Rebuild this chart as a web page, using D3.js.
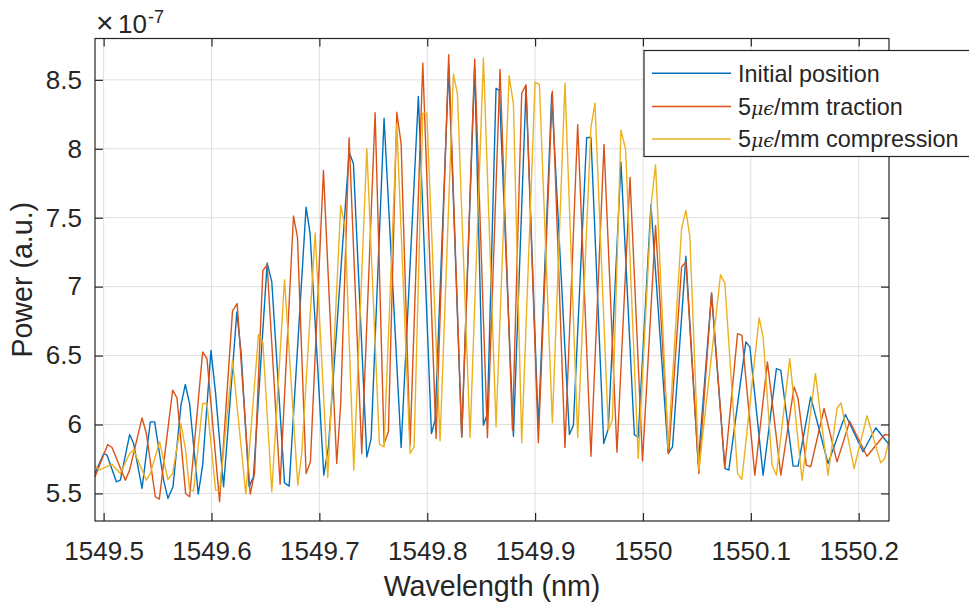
<!DOCTYPE html>
<html>
<head>
<meta charset="utf-8">
<script src="https://cdn.jsdelivr.net/npm/d3@7"></script>
<style>
  body { margin: 0; background: #fff; }
  text { font-family: "Liberation Sans", Arial, Helvetica, sans-serif; fill: #262626; }
</style>
</head>
<body>
<svg id="chart" width="969" height="608"></svg>
<script>
// Series labels (the μϵ part is set in italic math style)
const seriesNames = ["Initial position", "5μϵ/mm traction", "5μϵ/mm compression"];
const seriesColors = ["#0072BD", "#D95319", "#EDB120"];

// Wavelength (nm) and optical power (×10^-7 a.u.) for each recording
const wlInitial = [
  1549.4920, 1549.5001, 1549.5031, 1549.5118, 1549.5155, 1549.5241, 1549.5278, 1549.5356, 1549.5433, 1549.5473, 1549.5556, 1549.5596, 1549.5643, 1549.5717, 1549.5757, 1549.5797, 1549.5877, 1549.5918, 1549.5995, 1549.6038, 1549.6112,
  1549.6235, 1549.6275, 1549.6349, 1549.6389, 1549.6516, 1549.6559, 1549.6677, 1549.6720, 1549.6877, 1549.6914, 1549.7041, 1549.7084, 1549.7276, 1549.7316,
  1549.7440, 1549.7480, 1549.7600, 1549.7758, 1549.7918, 1549.8039, 1549.8073, 1549.8199, 1549.8320, 1549.8440, 1549.8521, 1549.8558, 1549.8638,
  1549.8669, 1549.8799, 1549.8916, 1549.9030, 1549.9154, 1549.9318, 1549.9355, 1549.9478, 1549.9518, 1549.9636, 1549.9679, 1549.9796, 1549.9920,
  1549.9956, 1550.0074, 1550.0234, 1550.0274, 1550.0398, 1550.0512, 1550.0636, 1550.0759, 1550.0796, 1550.0954, 1550.0991, 1550.1114,
  1550.1237, 1550.1278, 1550.1392, 1550.1438, 1550.1555, 1550.1716, 1550.1877, 1550.2040, 1550.2158, 1550.2281];
const pInitial = [
  5.645, 5.790, 5.778, 5.584, 5.596, 5.927, 5.862, 5.536, 6.019, 6.019, 5.596, 5.464, 5.548, 6.140, 6.290, 6.152, 5.495, 5.705, 6.538, 6.224, 5.548,
  6.816, 6.514, 5.548, 5.620, 7.171, 7.034, 5.577, 5.553, 7.577, 7.384, 5.633, 5.838, 7.976, 7.891,
  5.765, 5.898, 8.222, 5.833, 8.379, 5.935, 6.031, 8.592, 5.910, 8.592, 5.995, 6.080, 8.439,
  8.422, 5.915, 8.447, 5.971, 8.398, 5.927, 5.995, 8.080, 8.084, 5.862, 5.971, 7.903, 5.927,
  5.906, 7.594, 5.790, 5.838, 7.220, 5.717, 6.949, 5.681, 5.669, 6.599, 6.563, 5.633,
  6.405, 6.393, 5.698, 5.698, 6.200, 5.717, 6.072, 5.802, 5.976, 5.855];

const wlTraction = [
  1549.4920, 1549.5038, 1549.5078, 1549.5201, 1549.5241, 1549.5356, 1549.5396, 1549.5479, 1549.5516, 1549.5640, 1549.5680, 1549.5760, 1549.5797, 1549.5918, 1549.5958, 1549.6075,
  1549.6195, 1549.6238, 1549.6359, 1549.6399, 1549.6476, 1549.6516, 1549.6636, 1549.6760, 1549.6797, 1549.6877, 1549.6917, 1549.7038, 1549.7161, 1549.7198, 1549.7276, 1549.7393,
  1549.7517, 1549.7600, 1549.7640, 1549.7718, 1549.7758, 1549.7841, 1549.7959, 1549.8082, 1549.8199, 1549.8320, 1549.8440, 1549.8558, 1549.8675,
  1549.8790, 1549.8876, 1549.8916, 1549.9030, 1549.9160, 1549.9277, 1549.9395, 1549.9518, 1549.9639, 1549.9759, 1549.9880,
  1549.9996, 1550.0117, 1550.0240, 1550.0358, 1550.0398, 1550.0518, 1550.0636, 1550.0759, 1550.0877, 1550.0917, 1550.1037, 1550.1154,
  1550.1278, 1550.1401, 1550.1438, 1550.1515, 1550.1555, 1550.1679, 1550.1799, 1550.1917, 1550.2077, 1550.2241, 1550.2281];
const pTraction = [
  5.620, 5.855, 5.833, 5.596, 5.669, 6.048, 5.935, 5.476, 5.459, 6.249, 6.193, 5.500, 5.476, 6.526, 6.478, 5.440,
  6.824, 6.877, 5.495, 5.645, 7.118, 7.155, 5.567, 7.512, 7.360, 5.645, 5.729, 7.843, 5.717, 6.152, 8.080, 5.790,
  8.261, 5.862, 5.947, 8.265, 8.036, 5.850, 8.620, 5.898, 8.683, 5.910, 8.652, 5.906, 8.576,
  5.959, 8.403, 8.464, 5.867, 8.418, 5.833, 8.174, 5.770, 8.031, 5.799, 7.794,
  5.736, 7.444, 5.794, 7.142, 7.179, 5.645, 6.956, 5.688, 6.659, 6.647, 5.633, 6.454,
  5.633, 6.273, 6.188, 5.705, 5.693, 6.116, 5.729, 6.024, 5.770, 5.927, 5.923];

const wlCompression = [
  1549.4920, 1549.4957, 1549.5078, 1549.5155, 1549.5241, 1549.5278, 1549.5396, 1549.5433, 1549.5519, 1549.5596, 1549.5640, 1549.5717, 1549.5760, 1549.5797, 1549.5834, 1549.5918, 1549.5958, 1549.6038, 1549.6075,
  1549.6195, 1549.6318, 1549.6436, 1549.6476, 1549.6559, 1549.6677, 1549.6800, 1549.6837, 1549.6961, 1549.7078, 1549.7198, 1549.7239, 1549.7319,
  1549.7440, 1549.7557, 1549.7600, 1549.7718, 1549.7841, 1549.7878, 1549.7959, 1549.7996, 1549.8119, 1549.8243, 1549.8280, 1549.8397, 1549.8521, 1549.8638,
  1549.8759, 1549.8799, 1549.8876, 1549.9000, 1549.9040, 1549.9160, 1549.9277, 1549.9395, 1549.9518, 1549.9555, 1549.9679, 1549.9716, 1549.9796, 1549.9839,
  1549.9956, 1550.0080, 1550.0117, 1550.0234, 1550.0358, 1550.0398, 1550.0435, 1550.0518, 1550.0719, 1550.0759, 1550.0877, 1550.0917, 1550.1077,
  1550.1114, 1550.1197, 1550.1237, 1550.1361, 1550.1475, 1550.1599, 1550.1716, 1550.1799, 1550.1836, 1550.1957, 1550.2077, 1550.2204, 1550.2241, 1550.2281];
const pCompression = [
  5.705, 5.669, 5.710, 5.645, 5.790, 5.814, 5.596, 5.645, 5.874, 5.601, 5.645, 6.007, 5.814, 5.524, 5.519, 6.152, 6.152, 5.524, 5.519,
  6.466, 5.495, 6.654, 6.599, 5.512, 7.050, 5.560, 5.790, 7.389, 5.616, 7.589, 7.432, 5.669,
  8.000, 5.857, 5.838, 8.181, 5.790, 5.838, 8.258, 8.258, 5.881, 8.543, 8.398, 5.906, 8.659, 5.983,
  8.531, 8.326, 5.867, 8.483, 8.466, 6.012, 8.476, 5.906, 8.157, 8.331, 5.959, 6.031, 8.137, 7.995,
  5.753, 7.625, 7.884, 5.826, 7.420, 7.553, 7.360, 5.669, 7.087, 7.026, 5.645, 5.601, 6.773,
  6.635, 5.705, 5.633, 6.478, 5.596, 6.369, 5.633, 6.116, 6.157, 5.681, 6.063, 5.722, 5.753, 5.886];

// Axis ticks
const xTicks = [1549.5, 1549.6, 1549.7, 1549.8, 1549.9, 1550.0, 1550.1, 1550.2];
const xTickLabels = ["1549.5", "1549.6", "1549.7", "1549.8", "1549.9", "1550", "1550.1", "1550.2"];
const yTicks = [5.5, 6, 6.5, 7, 7.5, 8, 8.5];
const yTickLabels = ["5.5", "6", "6.5", "7", "7.5", "8", "8.5"];
const xDomain = [1549.4920, 1550.2281];
const yDomain = [5.3, 8.8];

const svg = d3.select("#chart");
const W = 969, H = 608;
const m = { left: 95, right: 889, top: 38.5, bottom: 521 };
const axisColor = "#262626";

svg.append("rect").attr("width", W).attr("height", H).attr("fill", "#fff");

const x = d3.scaleLinear().domain(xDomain).range([m.left, m.right]);
const y = d3.scaleLinear().domain(yDomain).range([m.bottom, m.top]);

// grid
const grid = svg.append("g").attr("stroke", "#dfdfdf").attr("stroke-width", 1);
grid.selectAll("line.gx").data(xTicks).join("line")
  .attr("x1", d => x(d)).attr("x2", d => x(d))
  .attr("y1", m.top).attr("y2", m.bottom);
grid.selectAll("line.gy").data(yTicks).join("line")
  .attr("x1", m.left).attr("x2", m.right)
  .attr("y1", d => y(d)).attr("y2", d => y(d));

// spectra
svg.append("clipPath").attr("id", "plotClip").append("rect")
  .attr("x", m.left).attr("y", m.top)
  .attr("width", m.right - m.left).attr("height", m.bottom - m.top);

const series = [
  d3.zip(wlInitial, pInitial),
  d3.zip(wlTraction, pTraction),
  d3.zip(wlCompression, pCompression)
];
const line = d3.line().x(d => x(d[0])).y(d => y(d[1]));
const plot = svg.append("g").attr("clip-path", "url(#plotClip)");
series.forEach((s, i) => {
  plot.append("path").datum(s)
    .attr("d", line)
    .attr("fill", "none")
    .attr("stroke", seriesColors[i])
    .attr("stroke-width", 1.4)
    .attr("stroke-linejoin", "round");
});

// axes with inward ticks on all four sides
const tickLen = 8;
function styleAxis(g) {
  g.select(".domain").remove();
  g.selectAll(".tick line").attr("stroke", axisColor).attr("stroke-width", 1.2);
  g.selectAll(".tick text").attr("fill", axisColor).style("font-size", "26px")
    .style("font-family", "'Liberation Sans', Arial, Helvetica, sans-serif");
}
svg.append("g").attr("transform", `translate(0,${m.bottom})`)
  .call(d3.axisBottom(x).tickValues(xTicks).tickFormat((d, i) => xTickLabels[i])
    .tickSizeInner(-tickLen).tickSizeOuter(0).tickPadding(21))
  .call(styleAxis);
svg.append("g").attr("transform", `translate(0,${m.top})`)
  .call(d3.axisTop(x).tickValues(xTicks).tickFormat("")
    .tickSizeInner(-tickLen).tickSizeOuter(0))
  .call(styleAxis);
svg.append("g").attr("transform", `translate(${m.left},0)`)
  .call(d3.axisLeft(y).tickValues(yTicks).tickFormat((d, i) => yTickLabels[i])
    .tickSizeInner(-tickLen).tickSizeOuter(0).tickPadding(13))
  .call(styleAxis);
svg.append("g").attr("transform", `translate(${m.right},0)`)
  .call(d3.axisRight(y).tickValues(yTicks).tickFormat("")
    .tickSizeInner(-tickLen).tickSizeOuter(0))
  .call(styleAxis);

// box
svg.append("rect")
  .attr("x", m.left).attr("y", m.top)
  .attr("width", m.right - m.left).attr("height", m.bottom - m.top)
  .attr("fill", "none").attr("stroke", axisColor).attr("stroke-width", 1.2);

// axis titles
svg.append("text")
  .attr("x", (m.left + m.right) / 2).attr("y", 596)
  .attr("text-anchor", "middle").style("font-size", "28.6px")
  .text("Wavelength (nm)");
svg.append("text")
  .attr("transform", `translate(32,${(m.top + m.bottom) / 2}) rotate(-90)`)
  .attr("text-anchor", "middle").style("font-size", "28.6px")
  .text("Power (a.u.)");

// exponent of the power axis
const expo = svg.append("text").attr("y", 33).style("font-size", "26px");
expo.append("tspan").attr("x", 96).style("font-size", "30px").style("font-weight", "300").text("×");
expo.append("tspan").attr("x", 118).text("10");
expo.append("tspan").attr("x", 148).attr("dy", -10).style("font-size", "18px").text("-7");

// legend
const lg = svg.append("g");
const lgBox = { x: 644, y: 50.5, w: 326, h: 106 };
lg.append("rect")
  .attr("x", lgBox.x).attr("y", lgBox.y).attr("width", lgBox.w).attr("height", lgBox.h)
  .attr("fill", "#fff").attr("stroke", axisColor).attr("stroke-width", 1.2);
const rowY = [73.3, 106.5, 139];
seriesNames.forEach((name, i) => {
  lg.append("line")
    .attr("x1", 652).attr("x2", 731).attr("y1", rowY[i]).attr("y2", rowY[i])
    .attr("stroke", seriesColors[i]).attr("stroke-width", 1.4);
  const t = lg.append("text").attr("x", 738).attr("y", rowY[i] + 8.3).style("font-size", "23.4px");
  const parts = name.split("μϵ");
  if (parts.length === 2) {
    t.append("tspan").text(parts[0]);
    t.append("tspan").style("font-family", "'DejaVu Serif', 'Liberation Serif', serif")
      .style("font-style", "italic").style("font-size", "19px").text("μϵ");
    t.append("tspan").text(parts[1]);
  } else {
    t.text(name);
  }
});
</script>
</body>
</html>
